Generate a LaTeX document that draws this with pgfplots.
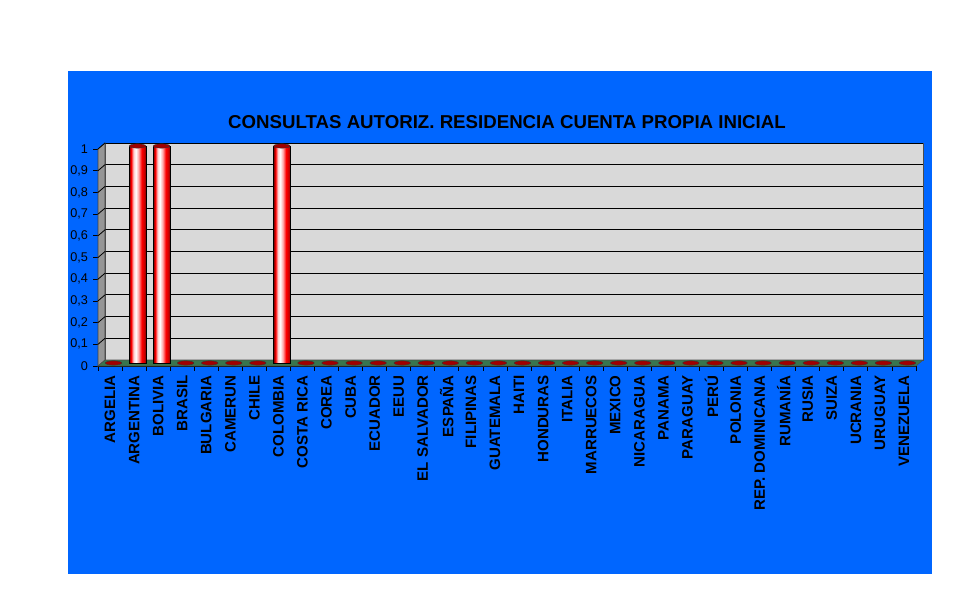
\documentclass[border=0pt]{standalone}
\usepackage{fontspec}
\setmainfont{Liberation Sans}
\usepackage{pgfplots}
\pgfplotsset{compat=1.18}

\definecolor{fondo}{RGB}{0,102,255}
\definecolor{pared}{RGB}{217,217,217}
\definecolor{lateral}{RGB}{150,150,150}
\definecolor{suelo}{RGB}{56,118,78}
\definecolor{tapa}{RGB}{160,0,0}

% cylinder look for the bars
\pgfdeclarehorizontalshading{cilindro}{100bp}{color(0bp)=(red!40!black); color(25bp)=(red!40!black);
  color(31bp)=(red); color(38bp)=(red!20!white); color(45bp)=(white); color(53bp)=(red!35!white);
  color(62bp)=(red); color(71bp)=(red!75!black); color(75bp)=(red!40!black); color(100bp)=(red!40!black)}

\pgfdeclareplotmark{elipse}{%
  \pgfpathellipse{\pgfpointorigin}{\pgfqpoint{6.2pt}{0pt}}{\pgfqpoint{0pt}{1.6pt}}%
  \pgfusepathqfillstroke}

\pgfplotsset{
  cilindro/.style={ybar, bar width=12.75pt, bar shift=0pt, draw=black, line width=0.4pt,
    shading=cilindro, shade, xshift=2.6pt, yshift=2.25pt},
}

\begin{document}
\begin{tikzpicture}
  \fill[white] (0,0) rectangle (726.75pt,453pt);
  \fill[fondo] (51pt,22.5pt) rectangle (699pt,399.75pt);
  \node[font=\bfseries\fontsize{14}{16}\selectfont] at (380.25pt,361.5pt)
    {CONSULTAS AUTORIZ. RESIDENCIA CUENTA PROPIA INICIAL};

  \begin{axis}[
      at={(78.75pt,183pt)}, anchor=south west,
      scale only axis,
      width=613.5pt, height=162.75pt,
      xmin=-0.5, xmax=33.5, ymin=0, ymax=1,
      enlargelimits=false,
      clip=false,
      axis background/.style={fill=pared, draw=gray!60!black, line width=0.5pt,
        xshift=5.25pt, yshift=4.5pt},
      axis x line*=bottom, axis y line*=left,
      axis line style={black, line width=0.6pt},
      tick align=outside,
      major tick length=3.5pt,
      tick style={black, line width=0.6pt},
      ytick={0,0.1,...,1},
      /pgf/number format/use comma,
      /pgf/number format/assume math mode=true,
      yticklabel style={font=\fontsize{9.5}{11}\selectfont, xshift=-0.5pt},
      xtick={-0.5,0.5,...,33.5},
      x tick label as interval,
      xticklabels={ARGELIA,ARGENTINA,BOLIVIA,BRASIL,BULGARIA,CAMERUN,CHILE,COLOMBIA,
        COSTA RICA,COREA,CUBA,ECUADOR,EEUU,EL SALVADOR,ESPAÑA,FILIPINAS,GUATEMALA,
        HAITI,HONDURAS,ITALIA,MARRUECOS,MEXICO,NICARAGUA,PANAMA,PARAGUAY,PERÚ,
        POLONIA,REP. DOMINICANA,RUMANÍA,RUSIA,SUIZA,UCRANIA,URUGUAY,VENEZUELA},
      xticklabel style={rotate=90, anchor=east, font=\bfseries\fontsize{11.3}{13}\selectfont},
      ymajorgrids,
      major grid style={black, line width=0.7pt, xshift=5.25pt, yshift=4.5pt},
    ]
    % side wall and floor
    \pgfplotsextra{%
      \filldraw[fill=lateral, draw=gray!50!black, line width=0.4pt]
        (axis cs:-0.5,0) -- (axis cs:-0.5,1) -- ++(5.25pt,4.5pt)
        -- ([shift={(5.25pt,4.5pt)}]axis cs:-0.5,0) -- cycle;
      \foreach \v in {0.1,0.2,0.3,0.4,0.5,0.6,0.7,0.8,0.9,1}{
        \draw[black, line width=0.6pt] (axis cs:-0.5,\v) -- ++(5.25pt,4.5pt);
      }
      \filldraw[fill=suelo, draw=black!70, line width=0.4pt]
        (axis cs:-0.5,0) -- (axis cs:33.5,0) -- ++(5.25pt,4.5pt)
        -- ([shift={(5.25pt,4.5pt)}]axis cs:-0.5,0) -- cycle;
    }

    \addplot[cilindro] coordinates {(1,1)};
    \addplot[cilindro] coordinates {(2,1)};
    \addplot[cilindro] coordinates {(7,1)};

    \addplot[only marks, mark=elipse, mark options={fill=tapa, draw=black!80, line width=0.3pt},
      xshift=2.6pt, yshift=2.25pt]
      coordinates {(0,0) (1,1) (2,1) (3,0) (4,0) (5,0) (6,0) (7,1) (8,0) (9,0) (10,0)
        (11,0) (12,0) (13,0) (14,0) (15,0) (16,0) (17,0) (18,0) (19,0) (20,0) (21,0)
        (22,0) (23,0) (24,0) (25,0) (26,0) (27,0) (28,0) (29,0) (30,0) (31,0) (32,0) (33,0)};
  \end{axis}
\end{tikzpicture}
\end{document}
